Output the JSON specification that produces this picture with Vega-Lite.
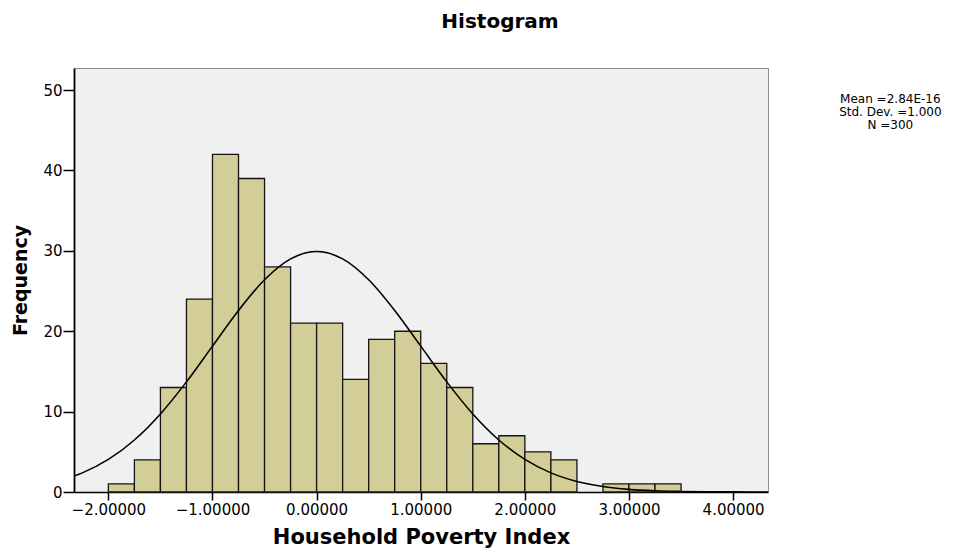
{
  "$schema": "https://vega.github.io/schema/vega-lite/v6.json",
  "width": 694,
  "height": 424,
  "autosize": {"type": "none"},
  "padding": {"left": 74, "top": 68, "right": 194, "bottom": 57},
  "background": "white",
  "title": {"text": "Histogram", "font": "DejaVu Sans", "fontSize": 20, "fontWeight": "bold", "anchor": "middle", "dx": 79, "offset": 36, "color": "black"},
  "config": {
    "view": {"fill": "#F0F0F0", "stroke": "#8C8C8C", "strokeWidth": 1},
    "axis": {"domainColor": "black", "tickColor": "black", "labelColor": "black", "titleColor": "black", "grid": false, "labelFont": "DejaVu Sans", "titleFont": "DejaVu Sans"}
  },
  "datasets": {
    "bins": [
      {"bin_start": -2.0, "bin_end": -1.75, "count": 1},
      {"bin_start": -1.75, "bin_end": -1.5, "count": 4},
      {"bin_start": -1.5, "bin_end": -1.25, "count": 13},
      {"bin_start": -1.25, "bin_end": -1.0, "count": 24},
      {"bin_start": -1.0, "bin_end": -0.75, "count": 42},
      {"bin_start": -0.75, "bin_end": -0.5, "count": 39},
      {"bin_start": -0.5, "bin_end": -0.25, "count": 28},
      {"bin_start": -0.25, "bin_end": 0.0, "count": 21},
      {"bin_start": 0.0, "bin_end": 0.25, "count": 21},
      {"bin_start": 0.25, "bin_end": 0.5, "count": 14},
      {"bin_start": 0.5, "bin_end": 0.75, "count": 19},
      {"bin_start": 0.75, "bin_end": 1.0, "count": 20},
      {"bin_start": 1.0, "bin_end": 1.25, "count": 16},
      {"bin_start": 1.25, "bin_end": 1.5, "count": 13},
      {"bin_start": 1.5, "bin_end": 1.75, "count": 6},
      {"bin_start": 1.75, "bin_end": 2.0, "count": 7},
      {"bin_start": 2.0, "bin_end": 2.25, "count": 5},
      {"bin_start": 2.25, "bin_end": 2.5, "count": 4},
      {"bin_start": 2.75, "bin_end": 3.0, "count": 1},
      {"bin_start": 3.0, "bin_end": 3.25, "count": 1},
      {"bin_start": 3.25, "bin_end": 3.5, "count": 1}
    ],
    "curve": [
      {"x": -2.33, "y": 1.98}, {"x": -2.25, "y": 2.38}, {"x": -2.0, "y": 4.05},
      {"x": -1.75, "y": 6.47}, {"x": -1.5, "y": 9.71}, {"x": -1.25, "y": 13.70},
      {"x": -1.0, "y": 18.15}, {"x": -0.75, "y": 22.58}, {"x": -0.5, "y": 26.40},
      {"x": -0.25, "y": 29.00}, {"x": 0.0, "y": 29.92}, {"x": 0.25, "y": 29.00},
      {"x": 0.5, "y": 26.40}, {"x": 0.75, "y": 22.58}, {"x": 1.0, "y": 18.15},
      {"x": 1.25, "y": 13.70}, {"x": 1.5, "y": 9.71}, {"x": 1.75, "y": 6.47},
      {"x": 2.0, "y": 4.05}, {"x": 2.25, "y": 2.38}, {"x": 2.5, "y": 1.31},
      {"x": 2.75, "y": 0.68}, {"x": 3.0, "y": 0.33}, {"x": 3.25, "y": 0.15},
      {"x": 3.5, "y": 0.07}, {"x": 3.75, "y": 0.03}, {"x": 4.0, "y": 0.01},
      {"x": 4.335, "y": 0.0}
    ],
    "stats": [
      {"x": 5.51, "y": 48.9, "label": ["Mean =2.84E-16", "Std. Dev. =1.000", "N =300"]}
    ]
  },
  "layer": [
    {
      "data": {"name": "bins"},
      "mark": {"type": "bar", "fill": "#D3CE97", "stroke": "#141414", "strokeWidth": 1.3},
      "encoding": {
        "x": {
          "field": "bin_start", "type": "quantitative",
          "scale": {"domain": [-2.33, 4.335], "nice": false, "zero": false},
          "axis": {"title": "Household Poverty Index", "titleFontSize": 21, "titleFontWeight": "bold", "titlePadding": 9,
                   "values": [-2, -1, 0, 1, 2, 3, 4], "format": ".5f", "labelFontSize": 15, "tickSize": 8, "tickWidth": 1.5,
                   "domainWidth": 1.5, "labelPadding": 2}
        },
        "x2": {"field": "bin_end"},
        "y": {
          "field": "count", "type": "quantitative",
          "scale": {"domain": [0, 52.75], "nice": false},
          "axis": {"title": "Frequency", "titleFontSize": 19, "titleFontWeight": "bold", "titlePadding": 12,
                   "values": [0, 10, 20, 30, 40, 50], "labelFontSize": 15, "tickSize": 11, "tickWidth": 1.5,
                   "domainWidth": 1.8, "labelPadding": 1}
        },
        "y2": {"datum": 0}
      }
    },
    {
      "data": {"name": "curve"},
      "mark": {"type": "line", "color": "black", "strokeWidth": 1.6, "interpolate": "monotone", "clip": true},
      "encoding": {
        "x": {"field": "x", "type": "quantitative"},
        "y": {"field": "y", "type": "quantitative"}
      }
    },
    {
      "data": {"name": "stats"},
      "mark": {"type": "text", "font": "DejaVu Sans", "fontSize": 12, "align": "center", "baseline": "middle", "lineHeight": 13, "color": "black"},
      "encoding": {
        "x": {"field": "x", "type": "quantitative"},
        "y": {"field": "y", "type": "quantitative"},
        "text": {"field": "label"}
      }
    }
  ]
}
